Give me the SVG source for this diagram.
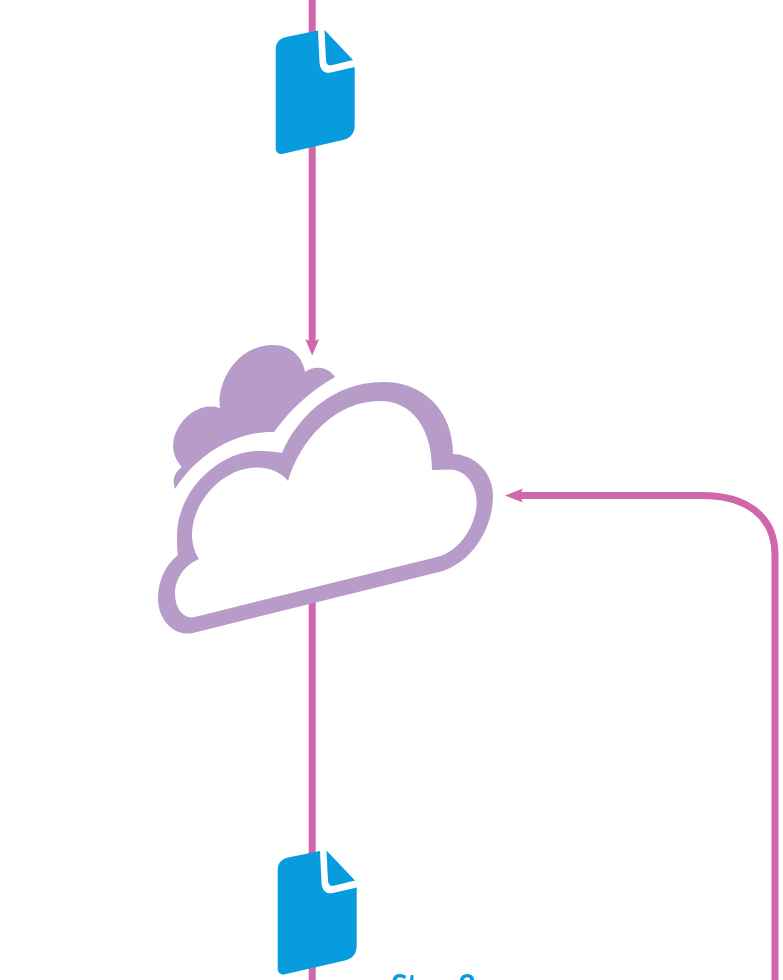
<svg xmlns="http://www.w3.org/2000/svg" width="783" height="980" viewBox="0 0 783 980">
<style>
.wire{fill:none;stroke:#cf68aa;stroke-width:7}
.head{fill:#cf68aa}
.doc{fill:#069cdd}
.cloud{fill:#b79bc9;fill-rule:evenodd}
.step{font-family:"Lato","Open Sans",sans-serif;font-size:30px;font-weight:700;fill:#069cdd}
</style>
<defs>
<g id="docshape">
<path class="doc" d="M318,30.5 L286,37 C279,38.5 275.7,43 275.7,50 L275.7,148 C275.7,152.5 279,154.8 283,153.8 L343,140 C351,138 354.7,133 354.7,125 L354.7,67 L331,72.5 C324,74 320,70 319.5,62 Z"/>
<path class="doc" d="M324.5,30 L353,60 L331.5,65.3 C328,66 326.2,64 326,60 Z"/>
</g>
</defs>
<g id="connectors">
<path class="wire" d="M312.2,0 L312.2,345"/>
<path class="head" d="M305.2,339 L312.2,355.5 L319.2,339 L312.2,342.5 Z"/>
<path class="wire" d="M312.2,590 L312.2,980"/>
<path class="wire" d="M775,980 L775,555 C775,515 745,495.5 702,495.5 L517,495.5"/>
<path class="head" d="M523,488.5 L505,495.5 L523,502.5 L519.5,495.5 Z"/>
</g>
<g id="doc-top"><use href="#docshape"/></g>
<g id="doc-bottom"><use href="#docshape" x="2" y="820.5"/></g>
<g id="cloud">
<path class="cloud" d="M175,489 C172,480 174,473 182,467 C170,455 171,438 180,425 C189,411 205,403 220,408 C216,385 235,345 273,345 C292,345 303,358 305,372 C315,365 328,367 335,377 C310,391 290,410 274,432 C240,431 200,450 175,489 Z"/>
<path class="cloud" d="M193,633 L440,571.7 C470,564 493,530 493,496 C493,472 475,455 453,454 C453,412 425,382 383,382 C335,382 298,415 282,453 C274,451.5 266,451 258,451 C215,452 176,495 177,537 C177,544 177,550 178,555 C165,565 158,582 158,598 C158,620 174,637 193,633 Z M195,617 C184,620 175,608 175,594 C175,578 185,565 199,559 C194,552 192,542 192,535 C192,500 225,467 257,467.5 C270,468 281,472 288,481 C300,440 335,401 380,401 C412,401 432,428 432,470 L450,469.5 C466,470 477,485 476.7,503 C476,525 460,551 438,556.7 Z"/>
</g>
<text class="step" x="391" y="996">Step 2</text>
</svg>
